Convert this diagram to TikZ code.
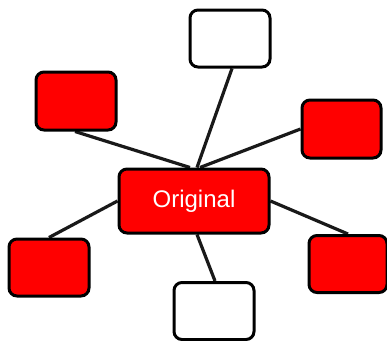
\documentclass[tikz,border=0pt]{standalone}
\usepackage{fontspec}
\setsansfont{Liberation Sans}
\usetikzlibrary{backgrounds}
\begin{document}
\begin{tikzpicture}[x=1pt,y=-1pt,
  box/.style={draw=black,line width=3pt,rounded corners=8pt,inner sep=0pt,
    minimum width=80pt,minimum height=57pt},
  redbox/.style={box,fill=red},
  whitebox/.style={box,fill=white},
  link/.style={draw=black!90,line width=3.2pt}]
\useasboundingbox (0,0) rectangle (387,340);
\node[redbox,minimum width=150pt,minimum height=64pt,
  font=\sffamily\fontsize{24}{27}\selectfont,text=white] (hub) at (194,201) {\raisebox{-3pt}{Original}};
\node[whitebox] (top) at (230,38.5) {};
\node[redbox,minimum height=58pt] (tl) at (76,101) {};
\node[redbox,minimum width=79pt,minimum height=58pt] (rt) at (341.5,129) {};
\node[redbox] (bl) at (49,267.5) {};
\node[redbox,minimum width=78pt] (br) at (348,264) {};
\node[whitebox] (bot) at (214,311) {};
\begin{scope}[on background layer]
\draw[link] ([xshift=2pt]top.south) -- ([xshift=3pt]hub.north);
\draw[link] ([xshift=-1pt]tl.south) -- ([xshift=-4pt]hub.north);
\draw[link] (rt.west) -- ([xshift=6pt]hub.north);
\draw[link] (bl.north) -- (hub.west);
\draw[link] (hub.east) -- (br.north);
\draw[link] ([xshift=3pt]hub.south) -- ([xshift=1pt]bot.north);
\end{scope}
\end{tikzpicture}
\end{document}
